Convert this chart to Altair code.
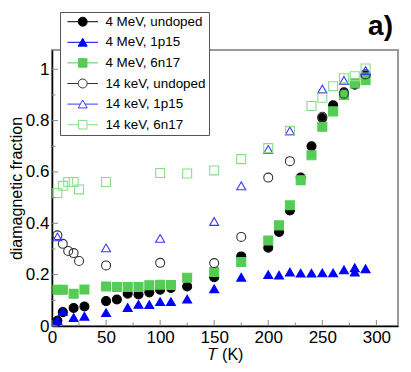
import altair as alt
import pandas as pd

series_names = ["4 MeV, undoped", "4 MeV, 1p15", "4 MeV, 6n17",
                "14 keV, undoped", "14 keV, 1p15", "14 keV, 6n17"]

t_4mev_undoped = [5, 10, 20, 30, 50, 60, 70, 80, 90, 100, 110, 125, 150, 175,
                  200, 210, 220, 230, 240, 250, 260, 270, 280, 290]
v_4mev_undoped = [0.02, 0.054, 0.07, 0.076, 0.097, 0.103, 0.126, 0.123, 0.131, 0.141,
                  0.148, 0.154, 0.19, 0.271, 0.305, 0.366, 0.45, 0.578, 0.70, 0.81,
                  0.86, 0.91, 0.94, 0.975]

t_4mev_1p15 = [5, 10, 20, 30, 50, 70, 80, 90, 100, 110, 125, 150, 175,
               200, 210, 220, 230, 240, 250, 260, 270, 280, 280, 290]
v_4mev_1p15 = [0.022, 0.057, 0.033, 0.038, 0.052, 0.072, 0.084, 0.083, 0.095, 0.095,
               0.105, 0.145, 0.19, 0.20, 0.198, 0.21, 0.206, 0.206, 0.207, 0.207,
               0.219, 0.227, 0.21, 0.223]

t_4mev_6n17 = [5, 10, 20, 30, 50, 60, 70, 80, 90, 100, 110, 125, 150, 175,
               200, 210, 220, 230, 240, 250, 260, 270, 280, 290]
v_4mev_6n17 = [0.141, 0.141, 0.126, 0.142, 0.154, 0.152, 0.152, 0.152, 0.159, 0.161,
               0.16, 0.188, 0.21, 0.249, 0.333, 0.392, 0.47, 0.568, 0.665, 0.776,
               0.836, 0.90, 0.945, 0.958]

t_14kev_undoped = [5, 10, 15, 20, 25, 50, 100, 150, 175, 200, 220, 250, 270, 290]
v_14kev_undoped = [0.353, 0.32, 0.292, 0.284, 0.253, 0.236, 0.246, 0.245, 0.347,
                   0.578, 0.642, 0.815, 0.905, 0.98]

t_14kev_1p15 = [5, 50, 100, 150, 175, 200, 220, 250, 270, 290]
v_14kev_1p15 = [0.347, 0.304, 0.341, 0.407, 0.546, 0.688, 0.76, 0.923, 0.957, 0.995]

t_14kev_6n17 = [5, 10, 15, 20, 25, 50, 100, 125, 150, 175, 200, 220, 240, 250,
                260, 270, 280, 290]
v_14kev_6n17 = [0.518, 0.546, 0.561, 0.561, 0.532, 0.561, 0.596, 0.594, 0.606, 0.65,
                0.693, 0.76, 0.857, 0.889, 0.934, 0.965, 0.973, 1.003]

x_major = [0, 50, 100, 150, 200, 250, 300]
x_minor = [25, 75, 125, 175, 225, 275]
y_major = [0, 0.2, 0.4, 0.6, 0.8, 1.0]
y_minor = [0.1, 0.3, 0.5, 0.7, 0.9]

strokes = ["#000000", "#0000ff", "#55cc55", "#333333", "#3a3aff", "#88dd88"]
fills = ["#000000", "#0000ff", "#55cc55", "transparent", "transparent", "transparent"]
shapes = ["circle", "triangle-up", "square", "circle", "triangle-up", "square"]

line_seg = "M-3.4,0L{a},0M{b},0L3.4,0"
p_circle = "M-1,0A1,1 0 1,1 1,0A1,1 0 1,1 -1,0Z" + line_seg.format(a=-1, b=1)
p_tri = "M0,-0.9L1,0.85L-1,0.85Z" + line_seg.format(a=-0.5, b=0.5)
p_sq = "M-0.95,-0.95L0.95,-0.95L0.95,0.95L-0.95,0.95Z" + line_seg.format(a=-0.95, b=0.95)
legend_shapes = [p_circle, p_tri, p_sq, p_circle, p_tri, p_sq]

all_t = [t_4mev_undoped, t_4mev_1p15, t_4mev_6n17, t_14kev_undoped, t_14kev_1p15, t_14kev_6n17]
all_v = [v_4mev_undoped, v_4mev_1p15, v_4mev_6n17, v_14kev_undoped, v_14kev_1p15, v_14kev_6n17]

rows = []
for name, ts, vs in zip(series_names, all_t, all_v):
    for t, v in zip(ts, vs):
        rows.append({"T": t, "frac": v, "series": name})
df = pd.DataFrame(rows)

W, H = 346, 276
xscale = alt.Scale(domain=[0, 320], nice=False, zero=False)
yscale = alt.Scale(domain=[0, 1.075], nice=False, zero=False)

x_axis = alt.Axis(values=x_major, ticks=False, grid=False, domainColor="black",
                  domainWidth=1.5, labelFontSize=17, labelPadding=3, labelColor="black",
                  labelFlush=False,
                  title="\U0001D447 (K)", titleFontSize=16, titleFontWeight="normal",
                  titleColor="black", titlePadding=1.5)
y_axis = alt.Axis(values=y_major, ticks=False, grid=False, domainColor="black",
                  domainWidth=1.5, labelFontSize=17, labelPadding=3, labelColor="black",
                  labelFlush=False,
                  format="~g", title="diamagnetic fraction", titleFontSize=16,
                  titleFontWeight="normal", titleColor="black", titlePadding=1)

X = alt.X("T:Q", scale=xscale, axis=x_axis)
Y = alt.Y("frac:Q", scale=yscale, axis=y_axis)

points = alt.Chart(df).mark_point(filled=True, size=80, strokeWidth=1.1, opacity=1).encode(
    x=X, y=Y,
    shape=alt.Shape("series:N", scale=alt.Scale(domain=series_names, range=shapes), legend=None),
    stroke=alt.Stroke("series:N", scale=alt.Scale(domain=series_names, range=strokes), legend=None),
    fill=alt.Fill("series:N", scale=alt.Scale(domain=series_names, range=fills), legend=None),
)

leg = alt.Legend(orient="none", legendX=8, legendY=-38, title=None, padding=3,
                 strokeColor="#555555", fillColor="white", symbolSize=81,
                 symbolStrokeWidth=1, symbolOffset=13, labelOffset=16,
                 labelFontSize=13.4, labelColor="black", rowPadding=5.6,
                 symbolOpacity=1)

legend_layer = alt.Chart(df).transform_filter("false").mark_point(
    filled=True, size=81, opacity=1).encode(
    x=X, y=Y,
    shape=alt.Shape("series:N", scale=alt.Scale(domain=series_names, range=legend_shapes), legend=leg),
    stroke=alt.Stroke("series:N", scale=alt.Scale(domain=series_names, range=strokes), legend=leg),
    fill=alt.Fill("series:N", scale=alt.Scale(domain=series_names, range=fills), legend=leg),
)

tick_color = "#888888"
xmaj = alt.Chart(pd.DataFrame({"T": x_major})).mark_rule(color=tick_color, strokeWidth=1).encode(
    x=X, y=alt.value(H), y2=alt.value(H - 6))
xmin = alt.Chart(pd.DataFrame({"T": x_minor})).mark_rule(color=tick_color, strokeWidth=1).encode(
    x=X, y=alt.value(H), y2=alt.value(H - 3.5))
ymaj = alt.Chart(pd.DataFrame({"frac": y_major})).mark_rule(color=tick_color, strokeWidth=1).encode(
    y=Y, x=alt.value(0), x2=alt.value(6))
ymin = alt.Chart(pd.DataFrame({"frac": y_minor})).mark_rule(color=tick_color, strokeWidth=1).encode(
    y=Y, x=alt.value(0), x2=alt.value(3.5))

chart = alt.layer(points, xmaj, xmin, ymaj, ymin, legend_layer).resolve_scale(
    shape="independent", stroke="independent", fill="independent"
).properties(
    width=W, height=H,
    title=alt.Title("a)", anchor="end", fontSize=28, fontWeight="bold", color="black",
                    dx=-5, dy=37, offset=8),
    autosize="none",
    padding={"left": 44, "top": 42, "right": 5, "bottom": 38},
).configure(font="Liberation Sans").configure_view(stroke="#9a9a9a", strokeWidth=2)

chart.save("out.html", embed_options={"renderer": "svg", "actions": False})
